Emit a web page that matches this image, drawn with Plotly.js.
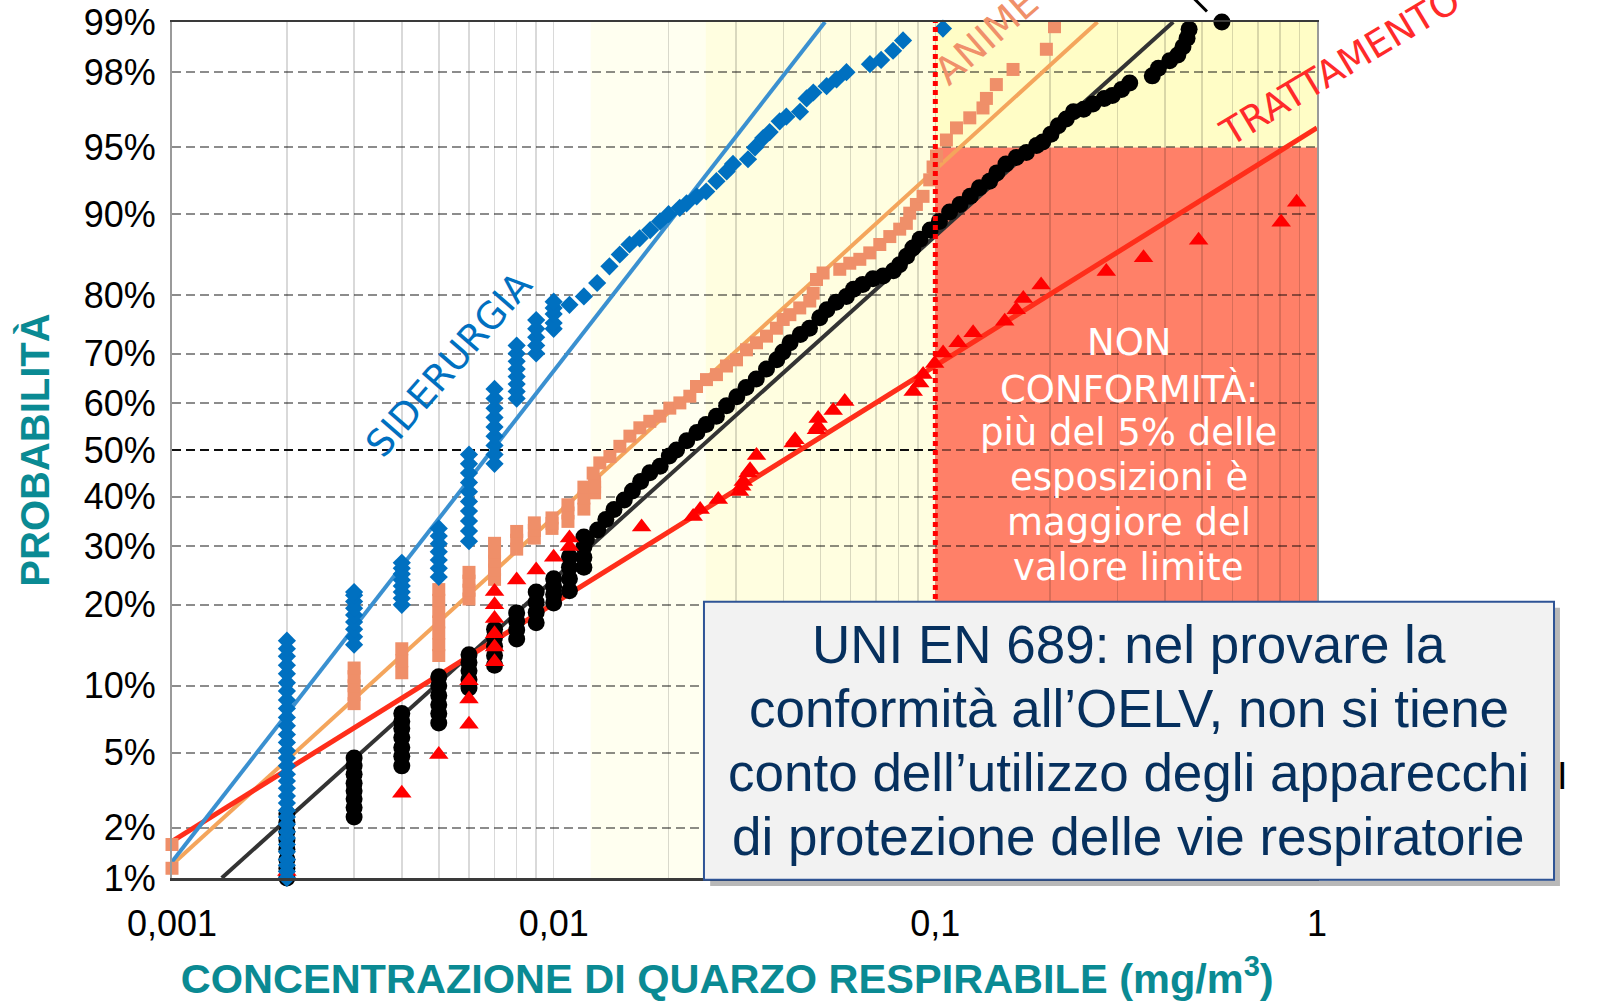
<!DOCTYPE html>
<html>
<head>
<meta charset="utf-8">
<script src="https://cdn.plot.ly/plotly-3.0.1.min.js"></script>
<style>
html,body{margin:0;padding:0;background:#fff;}
#chart{width:1605px;height:1002px;}
</style>
</head>
<body>
<div id="chart"></div>
<script>
// ---------- DATA (x = mg/m3, p = cumulative probability in %) ----------
const yTickPercent = [1,2,5,10,20,30,40,50,60,70,80,90,95,98,99];
const yTickText = ['1%','2%','5%','10%','20%','30%','40%','50%','60%','70%','80%','90%','95%','98%','99%'];
const xTickVals = [0.001,0.002,0.003,0.004,0.005,0.006,0.007,0.008,0.009,0.01,0.02,0.03,0.04,0.05,0.06,0.07,0.08,0.09,0.1,0.2,0.3,0.4,0.5,0.6,0.7,0.8,0.9,1];
const xTickText = ['0,001','','','','','','','','','0,01','','','','','','','','','0,1','','','','','','','','','1'];

const OELV = 0.1;
const bandPaleX = [0.0125, 0.025];
const bandLightX = [0.025, 0.1];
const limitPercent = 95;

// SIDERURGIA (blue diamonds): tied values stacked at the same concentration
const siderurgiaTiesX = [0.002,0.003,0.004,0.005,0.006,0.007,0.008,0.009,0.01];
const siderurgiaTiesP = [
  [1.0,1.1,1.2,1.3,1.45,1.6,1.75,1.9,2.1,2.3,2.5,2.75,3.0,3.3,3.6,3.9,4.3,4.7,5.1,5.6,6.1,6.7,7.3,8.0,8.7,9.5,10.3,11.2,12.1,13.1,14.0,15.0],
  [14.5,15.5,16.5,17.5,18.5,19.5,20.5,21.5,22.0],
  [20,21,22,23,24,25,26,27],
  [24.5,26,27.5,29,30.5,32,33.5],
  [31,33,35,37,39,41,43,45,47,49],
  [47,49,51,53,55,57,59,61,63],
  [61,62.5,64,65.5,67,68.5,70,71.5],
  [70,71.5,73,74.5,76],
  [74.5,75.5,77,78,79]
];
const siderurgiaX = [0.0110,0.0120,0.0130,0.0140,0.0149,0.0158,0.0168,0.0179,0.0190,0.0200,0.0214,0.0223,0.0237,0.0251,0.0267,0.0284,0.0295,0.0323,0.0337,0.0354,0.0368,0.0391,0.0407,0.0442,0.0460,0.0479,0.0519,0.0551,0.0585,0.0674,0.0721,0.0775,0.0823,0.1047];
const siderurgiaP = [78.5,79.8,81.8,84.1,85.6,86.8,87.5,88.4,89.3,90.0,90.6,91.0,91.6,92.0,92.8,93.5,94.0,94.3,95.0,95.5,95.8,96.3,96.5,96.7,97.2,97.4,97.6,97.8,98.0,98.2,98.3,98.5,98.7,98.9];

// ANIME (salmon squares)
const animeTiesX = [0.001,0.003,0.004,0.005,0.006,0.007,0.008,0.0089,0.0099,0.0109,0.012,0.0128];
const animeTiesP = [
  [1.15,1.6],
  [8.4,9.2,10.0,10.9,11.8],
  [11.3,12.6,14.0],
  [13.2,14.5,16.0,17.5,19.0,20.7,22.4],
  [20.9,22.3,23.8,25.3],
  [24.1,25.7,27.3,29.0,30.6],
  [29.5,31.2,32.9],
  [31.6,33.1,34.6],
  [33.5,34.5,35.6],
  [34.9,36.6,38.3],
  [37.4,39.7,42.0],
  [40.8,42.0,43.2]
];
const animeX = [0.01269,0.01321,0.01404,0.01491,0.01584,0.01682,0.01786,0.01898,0.02015,0.02141,0.02274,0.02367,0.02514,0.0267,0.02836,0.03013,0.032,0.034,0.03611,0.03834,0.03994,0.04158,0.04413,0.04688,0.04786,0.04882,0.05081,0.05618,0.05968,0.06341,0.06733,0.07153,0.07598,0.08066,0.08396,0.0857,0.0892,0.09286,0.09667,0.09865,0.1007,0.1069,0.1136,0.1231,0.1333,0.1361,0.1445,0.1598,0.1954,0.2052];
const animeP = [45.0,47.2,48.6,50.8,53.0,54.8,56.2,57.3,59.0,60.1,61.5,63.5,64.9,65.9,67.6,68.8,70.7,72.0,73.2,74.6,76.1,76.9,78.0,79.1,80.3,82.3,83.2,83.7,84.5,85.0,85.8,86.8,87.7,88.5,89.1,90.1,90.9,91.6,92.9,93.8,94.5,95.4,96.0,96.45,96.85,97.2,97.65,98.07,98.53,98.93];

// black series (circles)
const neraTiesX = [0.002,0.003,0.004,0.005,0.006,0.007,0.008,0.009,0.01,0.011,0.012];
const neraTiesP = [
  [1.0,1.15,1.3,1.5,1.7,1.9,2.15,2.4],
  [2.3,2.6,2.9,3.2,3.5,3.9,4.3,4.7],
  [4.3,4.8,5.3,5.9,6.5,7.0,7.6],
  [6.9,7.6,8.3,9.1,10.0,10.9],
  [9.8,10.6,11.5,12.4,13.3],
  [12.1,13.2,14.3,15.4,16.5],
  [15.2,16.4,17.6,18.8],
  [17.4,18.9,20.4,22.0],
  [20.3,21.6,22.9,24.2],
  [22.2,24.2,26.2,28.1],
  [26.2,28.0,29.9,31.8]
];
const neraX = [0.01218,0.01304,0.0137,0.01439,0.01531,0.01608,0.0169,0.01786,0.019,0.02009,0.02098,0.02232,0.02373,0.02508,0.02669,0.02838,0.03019,0.03192,0.03395,0.03611,0.03842,0.03987,0.04163,0.04428,0.0468,0.04979,0.05198,0.05495,0.05846,0.06103,0.06453,0.06863,0.07299,0.07766,0.08056,0.08412,0.0873,0.09116,0.09696,0.1025,0.109,0.116,0.1234,0.1304,0.1387,0.1449,0.1531,0.1629,0.1732,0.1842,0.1912,0.2009,0.2098,0.2203,0.2301,0.2447,0.2588,0.277,0.2909,0.3075,0.3231,0.3702,0.3841,0.4111,0.4319,0.4455,0.4566,0.4623,0.5633];
const neraP = [31.4,33.2,35.3,37.3,39.3,41.2,43.2,45.1,46.5,48.7,50.0,52.0,53.8,55.5,57.3,59.5,61.4,63.3,65.0,67.0,68.8,70.3,72.0,73.5,74.6,76.4,77.7,78.9,79.8,80.9,81.6,82.4,82.8,83.5,84.3,85.4,86.4,87.4,88.4,89.3,90.2,90.9,91.6,92.3,92.8,93.4,94.0,94.4,94.7,95.1,95.3,95.7,96.1,96.4,96.7,96.8,97.0,97.2,97.3,97.5,97.7,97.9,98.1,98.28,98.41,98.58,98.74,98.89,99.0];

// TRATTAMENTO (red triangles)
const trattamentoX = [0.002,0.004,0.005,0.006,0.006,0.006,0.007,0.007,0.007,0.007,0.007,0.007,0.008,0.009,0.01,0.011,0.011,0.017,0.0232,0.0242,0.027,0.0307,0.0311,0.0314,0.0323,0.0327,0.034,0.0424,0.0429,0.0488,0.0493,0.0493,0.054,0.0579,0.0875,0.091,0.0929,0.0996,0.1048,0.1147,0.1256,0.152,0.1629,0.17,0.1893,0.2805,0.3512,0.4896,0.8057,0.8845];
const trattamentoP = [1.1,3.1,4.9,6.8,8.8,10.5,12.5,14.2,15.9,18.0,20.0,22.1,24.0,25.7,28.0,30.0,31.6,33.8,35.9,37.3,39.4,41.1,42.2,43.2,45.0,45.7,48.8,51.5,52.2,54.4,55.1,56.8,58.5,60.4,62.5,64.2,65.9,68.1,70.1,72.0,73.8,75.8,77.7,79.5,81.5,83.4,85.2,87.3,89.2,91.1];

// fitted log-normal lines (end points)
const fitSiderurgiaX = [0.001, 0.0514], fitSiderurgiaP = [1.26, 99];
const fitAnimeX = [0.001, 0.266], fitAnimeP = [1.21, 99];
const fitNeraX = [0.00135, 0.42], fitNeraP = [1, 99];
const fitTrattamentoX = [0.001, 1], fitTrattamentoP = [1.67, 96.0];

const nonConformLines = ['NON','CONFORMITÀ:','più del 5% delle','esposizioni è','maggiore del','valore limite'];
const boxLines = ['UNI EN 689: nel provare la','conformità all’OELV, non si tiene','conto dell’utilizzo degli apparecchi','di protezione delle vie respiratorie'];

// ---------- probability (normal) scale ----------
function probit(p){
  const a=[-3.969683028665376e+01,2.209460984245205e+02,-2.759285104469687e+02,1.383577518672690e+02,-3.066479806614716e+01,2.506628277459239e+00];
  const b=[-5.447609879822406e+01,1.615858368580409e+02,-1.556989798598866e+02,6.680131188771972e+01,-1.328068155288572e+01];
  const c=[-7.784894002430293e-03,-3.223964580411365e-01,-2.400758277161838e+00,-2.549732539343734e+00,4.374664141464968e+00,2.938163982698783e+00];
  const d=[7.784695709041462e-03,3.224671290700398e-01,2.445134137142996e+00,3.754408661907416e+00];
  const pl=0.02425, ph=1-pl; let q,r;
  if(p<pl){q=Math.sqrt(-2*Math.log(p));return (((((c[0]*q+c[1])*q+c[2])*q+c[3])*q+c[4])*q+c[5])/((((d[0]*q+d[1])*q+d[2])*q+d[3])*q+1);}
  if(p<=ph){q=p-0.5;r=q*q;return (((((a[0]*r+a[1])*r+a[2])*r+a[3])*r+a[4])*r+a[5])*q/(((((b[0]*r+b[1])*r+b[2])*r+b[3])*r+b[4])*r+1);}
  q=Math.sqrt(-2*Math.log(1-p));return -(((((c[0]*q+c[1])*q+c[2])*q+c[3])*q+c[4])*q+c[5])/((((d[0]*q+d[1])*q+d[2])*q+d[3])*q+1);
}
const z = pc => probit(pc/100);
function flatten(tx, tp, x, p){
  const X=[], P=[];
  tx.forEach((v,i)=>tp[i].forEach(pp=>{X.push(v);P.push(pp);}));
  return {x: X.concat(x), y: P.concat(p).map(z)};
}
const yMin = z(yTickPercent[0]), yMax = z(yTickPercent[yTickPercent.length-1]);

const sid = flatten(siderurgiaTiesX, siderurgiaTiesP, siderurgiaX, siderurgiaP);
const ani = flatten(animeTiesX, animeTiesP, animeX, animeP);
const ner = flatten(neraTiesX, neraTiesP, neraX, neraP);

function fitLine(x,p,color,w){
  return {type:'scatter', mode:'lines', x:x, y:p.map(z), line:{color:color,width:w||4}, hoverinfo:'skip'};
}
function pts(o,symbol,size,color){
  return {type:'scatter', mode:'markers', x:o.x, y:o.y, cliponaxis:false,
          marker:{symbol:symbol,size:size,color:color,line:{width:0}}, hoverinfo:'skip'};
}

const traces = [
  fitLine(fitNeraX, fitNeraP, '#333333', 4),
  fitLine(fitAnimeX, fitAnimeP, '#F4A55C', 4),
  fitLine(fitTrattamentoX, fitTrattamentoP, '#FF2E1A', 5),
  fitLine(fitSiderurgiaX, fitSiderurgiaP, '#3A90D0', 4),
  pts(ner,'circle',17,'#000000'),
  pts(ani,'square',13,'#EF8F69'),
  pts({x:trattamentoX, y:trattamentoP.map(z)},'triangle-up',17,'#FF0000'),
  pts(sid,'diamond',14,'#0070C0')
];

const shapes = [
  {type:'rect', layer:'below', xref:'x', yref:'paper', x0:bandPaleX[0], x1:bandPaleX[1], y0:0, y1:1, fillcolor:'#FFFFF0', line:{width:0}},
  {type:'rect', layer:'below', xref:'x', yref:'paper', x0:bandLightX[0], x1:bandLightX[1], y0:0, y1:1, fillcolor:'#FFFEE0', line:{width:0}},
  {type:'rect', layer:'below', xref:'x', yref:'y', x0:OELV, x1:1, y0:z(limitPercent), y1:yMax, fillcolor:'#FFFDC6', line:{width:0}},
  {type:'rect', layer:'below', xref:'x', yref:'y', x0:OELV, x1:1, y0:yMin, y1:z(limitPercent), fillcolor:'#FF8068', line:{width:0}},
  {type:'line', layer:'between', xref:'paper', yref:'y', x0:0, x1:1, y0:z(50), y1:z(50), line:{color:'#1a1a1a', width:2, dash:'9px,5px'}},
  {type:'line', layer:'above', xref:'x', yref:'paper', x0:OELV, x1:OELV, y0:0, y1:1, line:{color:'#FF0000', width:5, dash:'5px,4px'}},
  // short black leader stroke above the last black point (cut label)
  {type:'line', layer:'above', xref:'paper', yref:'paper', x0:0.8917, y0:1.0286, x1:0.9039, y1:1.0123, line:{color:'#000000', width:3}},
  // text box shadow and box
  {type:'rect', layer:'above', xref:'paper', yref:'paper', x0:0.4700, x1:1.2122, y0:-0.0092, y1:0.3156, fillcolor:'rgba(0,0,0,0.28)', line:{width:0}},
  {type:'rect', layer:'above', xref:'paper', yref:'paper', x0:0.4646, x1:1.2070, y0:-0.002, y1:0.3226, fillcolor:'#F2F2F2', line:{color:'#2F5496', width:2}}
];

const arial = 'Liberation Sans, Arial, sans-serif';
const labelFont = 'DejaVu Sans, Verdana, sans-serif';
const annotations = [];
function ann(x,y,text,font,angle){
  annotations.push({xref:'paper', yref:'paper', x:x, y:y, xanchor:'center', yanchor:'middle',
    text:text, textangle:angle||0, showarrow:false, font:font});
}
ann(0.2420, 0.6000, 'SIDERURGIA', {family:labelFont, size:37, color:'#0070C0'}, -49);
ann(0.7110, 0.9830, 'ANIME', {family:labelFont, size:38, color:'#F0906A'}, -41);
ann(1.0200, 0.9480, 'TRATTAMENTO', {family:labelFont, size:37, color:'#FF2A2A'}, -31);
const ncY = [0.6254,0.5716,0.5202,0.4676,0.4150,0.3624];
nonConformLines.forEach((t,i)=>ann(0.8358, ncY[i], t, {family:labelFont, size:37, color:'#FFFFFF'}));
const bxY = [0.2724,0.1975,0.1227,0.0479];
boxLines.forEach((t,i)=>ann(0.8358, bxY[i], t, {family:arial, size:53, color:'#06305E'}));
ann(1.2140, 0.119, 'I', {family:arial, size:38, color:'#000000'});

const layout = {
  width:1605, height:1002,
  margin:{l:172, r:288, t:22, b:124, autoexpand:false},
  paper_bgcolor:'#FFFFFF', plot_bgcolor:'#FFFFFF',
  showlegend:false, hovermode:false,
  xaxis:{type:'log', range:[-3,0], tickvals:xTickVals, ticktext:xTickText, ticks:'',
    showgrid:true, gridcolor:'rgba(0,0,0,0.15)', gridwidth:1.5,
    showline:true, linecolor:'#3a3a3a', linewidth:2.5, mirror:true, zeroline:false,
    ticklabelstandoff:12,
    tickfont:{family:arial, size:36, color:'#000'},
    title:{text:'<b>CONCENTRAZIONE DI QUARZO RESPIRABILE (mg/m<sup>3</sup>)</b>&nbsp;&nbsp;&nbsp;', standoff:24,
      font:{family:arial, size:41.5, color:'#0A8A93'}}},
  yaxis:{range:[yMin,yMax], tickvals:yTickPercent.map(z), ticktext:yTickText, ticks:'',
    showgrid:true, gridcolor:'rgba(0,0,0,0.45)', gridwidth:2, griddash:'9px,5px',
    showline:true, linecolor:'#9a9a9a', linewidth:2, mirror:true, zeroline:false,
    ticklabelstandoff:7,
    tickfont:{family:arial, size:36, color:'#000'},
    title:{text:'<b>PROBABILITÀ</b>', standoff:22,
      font:{family:arial, size:40, color:'#0A8A93'}}},
  shapes:shapes,
  annotations:annotations
};

Plotly.newPlot('chart', traces, layout, {staticPlot:true, displayModeBar:false});
</script>
</body>
</html>
